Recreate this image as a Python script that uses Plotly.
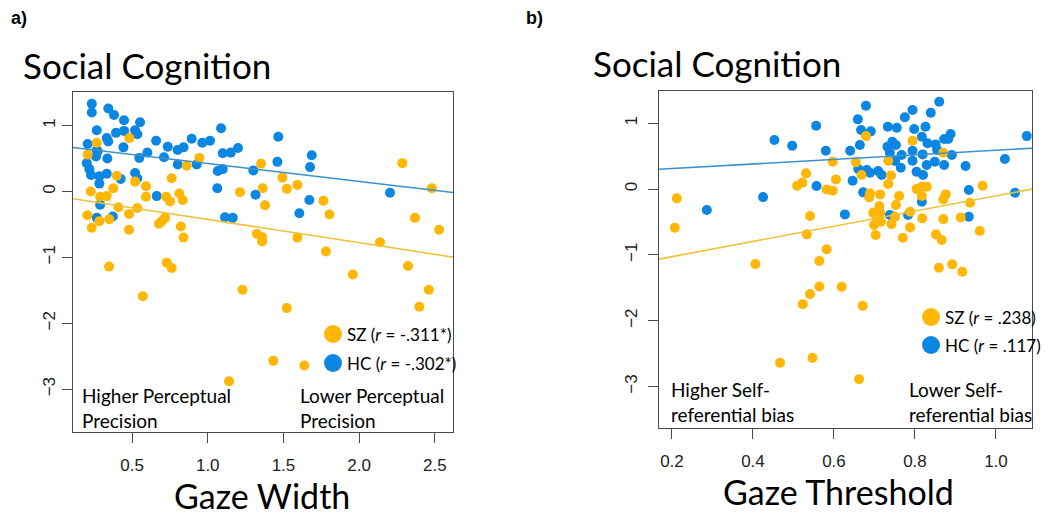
import plotly.graph_objects as go
import numpy as np

# ---- panel a) Gaze Width vs Social Cognition ----
sz_width_x = [0.267, 0.207, 0.482, 0.945, 0.861, 0.762, 0.399, 0.520, 0.592, 0.376,
              0.227, 0.289, 0.333, 0.592, 0.725, 0.751, 0.812, 0.835, 1.213, 0.410,
              0.535, 0.205, 0.284, 0.350, 0.480, 0.718, 0.696, 0.678, 0.234, 0.480,
              0.822, 0.840, 1.324, 0.348, 0.729, 0.762, 1.352, 1.363, 1.493, 1.522,
              1.592, 1.378, 1.764, 1.804, 2.285, 2.480, 2.369, 2.528, 1.359, 1.359,
              1.592, 2.138, 1.781, 2.323, 0.571, 1.230, 1.141, 1.522, 1.958, 2.460,
              2.398, 1.433, 1.638]
sz_width_y = [0.74, 0.56, 0.81, 0.51, 0.39, 0.20, 0.24, 0.15, 0.08, 0.05,
              0.00, -0.08, -0.07, -0.08, -0.08, -0.15, -0.03, -0.13, -0.01, -0.24,
              -0.25, -0.36, -0.45, -0.42, -0.34, -0.40, -0.45, -0.49, -0.55, -0.58,
              -0.53, -0.70, -0.64, -1.14, -1.08, -1.16, 0.42, 0.05, 0.21, 0.04,
              0.10, -0.21, -0.14, -0.35, 0.43, 0.05, -0.40, -0.58, -0.69, -0.76,
              -0.70, -0.77, -0.91, -1.13, -1.59, -1.49, -2.88, -1.77, -1.26, -1.49,
              -1.75, -2.57, -2.64]
hc_width_x = [0.234, 0.234, 0.343, 0.381, 0.447, 0.553, 0.267, 0.394, 0.447, 0.520,
              0.535, 0.333, 0.343, 0.659, 0.207, 0.267, 0.443, 0.601, 0.548, 0.736,
              0.801, 0.840, 0.894, 0.964, 1.015, 1.088, 1.099, 1.152, 1.200, 0.711,
              0.802, 0.927, 1.066, 1.099, 1.301, 0.201, 0.218, 0.229, 0.262, 0.273,
              0.284, 0.284, 0.337, 0.333, 0.520, 0.535, 0.425, 0.663, 0.289, 0.267,
              0.373, 1.063, 1.114, 1.165, 1.316, 1.466, 1.460, 1.687, 1.676, 1.671,
              1.605, 2.204]
hc_width_y = [1.33, 1.20, 1.26, 1.16, 1.08, 1.05, 0.93, 0.89, 0.92, 0.93,
              0.87, 0.81, 0.76, 0.77, 0.72, 0.63, 0.67, 0.59, 0.51, 0.68,
              0.63, 0.67, 0.80, 0.74, 0.77, 0.96, 0.58, 0.59, 0.66, 0.52,
              0.41, 0.41, 0.31, 0.34, 0.32, 0.43, 0.34, 0.25, 0.53, 0.61,
              0.23, 0.12, 0.50, 0.27, 0.28, 0.20, 0.19, -0.07, -0.20, -0.40,
              -0.38, 0.05, -0.39, -0.40, -0.05, 0.83, 0.45, 0.55, 0.37, -0.13,
              -0.33, -0.02]
# fitted lines (intercept, slope)
sz_width_fit = (-0.071, -0.353)
hc_width_fit = (0.697, -0.272)

# ---- panel b) Gaze Threshold vs Social Cognition ----
sz_thr_x = [0.212, 0.207, 0.406, 0.531, 0.522, 0.509, 0.541, 0.533, 0.679, 0.794,
            0.870, 0.734, 0.597, 0.654, 0.605, 0.582, 0.597, 0.668, 0.741, 0.734,
            0.689, 0.687, 0.714, 0.761, 0.804, 0.817, 0.829, 0.817, 0.876, 0.870,
            0.967, 0.936, 0.753, 0.712, 0.697, 0.714, 0.705, 0.751, 0.788, 0.699,
            0.716, 0.742, 0.703, 0.788, 0.818, 0.870, 0.913, 0.770, 0.852, 0.866,
            0.960, 0.582, 0.564, 0.859, 0.892, 0.917, 0.564, 0.619, 0.541, 0.523,
            0.671, 0.467, 0.547, 0.662]
sz_thr_y = [-0.141, -0.588, -1.140, 0.239, 0.096, 0.050, -0.410, -0.688, 0.805, 0.734,
            0.552, 0.430, 0.415, 0.406, 0.147, -0.005, -0.026, 0.213, 0.208, 0.076,
            -0.065, -0.126, -0.081, -0.106, 0.000, 0.035, 0.035, -0.106, -0.081, -0.157,
            0.050, -0.208, -0.243, -0.258, -0.360, -0.360, -0.430, -0.421, -0.345, -0.547,
            -0.497, -0.532, -0.699, -0.582, -0.445, -0.456, -0.430, -0.740, -0.688, -0.775,
            -0.638, -0.916, -1.094, -1.196, -1.144, -1.257, -1.479, -1.485, -1.596, -1.748,
            -1.774, -2.640, -2.564, -2.888]
hc_thr_x = [0.453, 0.497, 0.425, 0.286, 0.556, 0.580, 0.557, 0.679, 0.659, 0.667,
            0.691, 0.664, 0.640, 0.733, 0.755, 0.775, 0.794, 0.839, 0.860, 0.798,
            0.826, 0.817, 0.732, 0.744, 0.753, 0.738, 0.767, 0.794, 0.819, 0.831,
            0.851, 0.855, 0.872, 0.882, 0.888, 0.891, 0.872, 0.849, 0.829, 0.794,
            0.765, 0.751, 0.804, 0.820, 0.925, 1.022, 1.076, 1.047, 0.933, 0.933,
            0.817, 0.783, 0.738, 0.627, 0.672, 0.660, 0.681, 0.689, 0.709, 0.718,
            0.646]
hc_thr_y = [0.745, 0.658, -0.122, -0.319, 0.962, 0.582, 0.046, 1.266, 1.059, 0.897,
            0.877, 0.669, 0.582, 0.947, 0.932, 1.090, 1.201, 1.160, 1.327, 0.912,
            0.947, 0.795, 0.643, 0.719, 0.669, 0.552, 0.517, 0.582, 0.527, 0.695,
            0.679, 0.593, 0.760, 0.760, 0.836, 0.517, 0.365, 0.415, 0.365, 0.430,
            0.324, 0.426, 0.263, 0.213, 0.350, 0.456, 0.805, -0.056, -0.015, -0.421,
            -0.193, -0.395, -0.395, -0.385, -0.050, 0.304, 0.289, 0.248, 0.274, 0.213,
            0.126]
sz_thr_fit = (-1.258, 1.155)
hc_thr_fit = (0.242, 0.347)

y_ticks = [-3, -2, -1, 0, 1]
width_ticks = [0.5, 1.0, 1.5, 2.0, 2.5]
width_tick_text = ["0.5", "1.0", "1.5", "2.0", "2.5"]
thr_ticks = [0.2, 0.4, 0.6, 0.8, 1.0]
thr_tick_text = ["0.2", "0.4", "0.6", "0.8", "1.0"]

SZ_COL = "#FFB703"
HC_COL = "#0B86E3"
SZ_LINE = "#EEC23C"
HC_LINE = "#3D90CE"

# page body has an 8px margin, so the figure is shrunk and shifted by it
OFF = 8
W, H = 1050 - OFF, 515 - OFF
width_range = [0.11, 2.62]
thr_range = [0.168, 1.089]


def px(x):
    return (x - OFF) / W


def py(y):
    return 1 - (y - OFF) / H


fig = go.Figure()

panels = [
    ("x", "y", hc_width_x, hc_width_y, sz_width_x, sz_width_y, hc_width_fit, sz_width_fit, width_range),
    ("x2", "y2", hc_thr_x, hc_thr_y, sz_thr_x, sz_thr_y, hc_thr_fit, sz_thr_fit, thr_range),
]
for xa, ya, hx, hy, sx, sy, hfit, sfit, xr in panels:
    fig.add_trace(go.Scatter(x=hx, y=hy, mode="markers", xaxis=xa, yaxis=ya,
                             marker=dict(color=HC_COL, size=10), showlegend=False))
    fig.add_trace(go.Scatter(x=sx, y=sy, mode="markers", xaxis=xa, yaxis=ya,
                             marker=dict(color=SZ_COL, size=10), showlegend=False))
    lx = np.array(xr)
    fig.add_trace(go.Scatter(x=lx, y=hfit[0] + hfit[1] * lx, mode="lines", xaxis=xa, yaxis=ya,
                             line=dict(color=HC_LINE, width=1.6), showlegend=False))
    fig.add_trace(go.Scatter(x=lx, y=sfit[0] + sfit[1] * lx, mode="lines", xaxis=xa, yaxis=ya,
                             line=dict(color=SZ_LINE, width=1.6), showlegend=False))

axis_common = dict(showgrid=False, zeroline=False, showline=True, mirror=True,
                   linecolor="#4a4a4a", linewidth=1.3, ticks="outside", ticklen=10,
                   tickcolor="#4a4a4a", tickwidth=1.3,
                   tickfont=dict(family="Liberation Sans, Arial", size=17, color="#222"))

fig.update_layout(
    width=W, height=H,
    margin=dict(l=0, r=0, t=0, b=0),
    plot_bgcolor="white", paper_bgcolor="white",
    xaxis=dict(axis_common, domain=[px(73), px(453)], range=width_range,
               tickvals=width_ticks, ticktext=width_tick_text, anchor="y",
               ticklabelstandoff=7),
    yaxis=dict(axis_common, domain=[py(432), py(92)], range=[-3.65, 1.51],
               tickvals=y_ticks, tickangle=-90, anchor="x", ticklabelstandoff=0),
    xaxis2=dict(axis_common, domain=[px(659), px(1032)], range=thr_range,
                tickvals=thr_ticks, ticktext=thr_tick_text, anchor="y2",
                ticklabelstandoff=7),
    yaxis2=dict(axis_common, domain=[py(428), py(91)], range=[-3.63, 1.49],
                tickvals=y_ticks, tickangle=-90, anchor="x2", ticklabelstandoff=4),
)

TXT = "Lato"
annots = [
    dict(x=px(9), y=py(18), text="<b>a)</b>", xanchor="left", font=dict(family="Liberation Sans, Arial", size=18)),
    dict(x=px(524), y=py(18), text="<b>b)</b>", xanchor="left", font=dict(family="Liberation Sans, Arial", size=18)),
    dict(x=px(21), y=py(65), text="Social Cognition", xanchor="left", font=dict(family=TXT, size=35)),
    dict(x=px(591), y=py(63), text="Social Cognition", xanchor="left", font=dict(family=TXT, size=35)),
    dict(x=px(262), y=py(495), text="Gaze Width", xanchor="center", font=dict(family=TXT, size=34)),
    dict(x=px(838), y=py(491), text="Gaze Threshold", xanchor="center", font=dict(family=TXT, size=34)),
    dict(x=px(80), y=py(408), text="Higher Perceptual<br>Precision", xanchor="left", align="left",
         font=dict(family=TXT, size=19)),
    dict(x=px(298), y=py(408), text="Lower Perceptual<br>Precision", xanchor="left", align="left",
         font=dict(family=TXT, size=19)),
    dict(x=px(669), y=py(402), text="Higher Self-<br>referential bias", xanchor="left", align="left",
         font=dict(family=TXT, size=19)),
    dict(x=px(907), y=py(402), text="Lower Self-<br>referential bias", xanchor="left", align="left",
         font=dict(family=TXT, size=19)),
    dict(x=px(345), y=py(334), text="SZ (<i>r</i> = -.311*)", xanchor="left", font=dict(family=TXT, size=17)),
    dict(x=px(345), y=py(363), text="HC (<i>r</i> = -.302*)", xanchor="left", font=dict(family=TXT, size=17)),
    dict(x=px(943), y=py(317), text="SZ (<i>r</i> = .238)", xanchor="left", font=dict(family=TXT, size=17)),
    dict(x=px(943), y=py(345), text="HC (<i>r</i> = .117)", xanchor="left", font=dict(family=TXT, size=17)),
]
for a in annots:
    a.setdefault("yanchor", "middle")
    a["font"]["color"] = "black"
    fig.add_annotation(a, xref="paper", yref="paper", showarrow=False)

# legend dots
for cx, cy, col in [(333, 334, SZ_COL), (333, 363, HC_COL), (931, 317, SZ_COL), (931, 345, HC_COL)]:
    r = 9
    fig.add_shape(type="circle", xref="paper", yref="paper",
                  x0=px(cx - r), x1=px(cx + r), y0=py(cy + r), y1=py(cy - r),
                  fillcolor=col, line=dict(width=0))

fig.write_html("out.html")
